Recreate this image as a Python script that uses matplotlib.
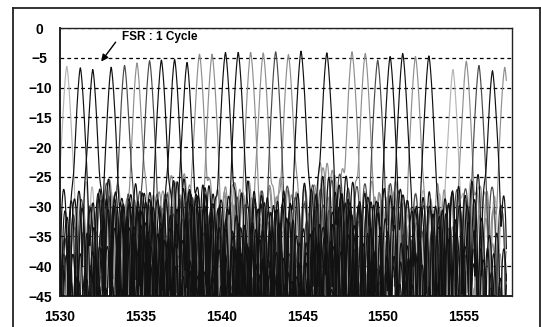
import numpy as np
import matplotlib
matplotlib.use("Agg")
import matplotlib.pyplot as plt
from matplotlib.lines import Line2D

# channel peaks
peak_wl = [1530.42, 1531.26, 1532.03, 1533.17, 1534.00, 1534.77, 1535.55, 1536.28,
           1537.10, 1537.87, 1538.64, 1539.42, 1540.25, 1541.04, 1541.81, 1542.59,
           1543.36, 1544.15, 1544.93, 1546.53, 1548.09, 1548.91, 1549.68, 1550.45,
           1551.23, 1552.02, 1552.85, 1554.34, 1555.17, 1555.95, 1556.79, 1557.55]
peak_db = [-6.5, -6.7, -7.0, -6.6, -6.3, -5.9, -5.5, -5.4,
           -5.3, -5.8, -4.4, -4.4, -4.1, -4.1, -4.1, -4.2,
           -4.0, -4.5, -3.9, -4.2, -4.0, -4.3, -5.4, -4.8,
           -4.3, -4.8, -4.7, -7.0, -5.6, -6.3, -7.2, -6.6]
peak_tone = ['l', 'k', 'k', 'k', 'd', 'g', 'd', 'k',
             'k', 'k', 'g', 'g', 'k', 'k', 'g', 'g',
             'd', 'g', 'k', 'k', 'g', 'g', 'd', 'k',
             'k', 'g', 'k', 'l', 'g', 'd', 'k', 'g']

# top of the crosstalk floor, read every 1 nm
floor_wl = [1530, 1531, 1532, 1533, 1534, 1535, 1536, 1537, 1538, 1539,
            1540, 1541, 1542, 1543, 1544, 1545, 1546, 1547, 1548, 1549,
            1550, 1551, 1552, 1553, 1554, 1555, 1556, 1557, 1558]
floor_db = [-27.0, -26.0, -26.5, -25.5, -27.0, -26.0, -26.5, -25.0, -25.3, -26.0,
            -26.5, -25.5, -26.0, -26.5, -25.5, -26.0, -23.0, -22.5, -24.5, -26.5,
            -26.5, -26.0, -26.5, -27.0, -26.5, -26.0, -25.0, -26.5, -27.5]

tones = {'k': '#111111', 'd': '#4a4a4a', 'g': '#8f8f8f', 'l': '#b5b5b5'}

fig = plt.figure(figsize=(5.41, 3.27), dpi=100)
ax = fig.add_axes([60 / 541, 1 - 296 / 327, 452 / 541, 268 / 327])

wl = np.arange(1530.0, 1557.65, 0.01)
floor = np.interp(wl, floor_wl, floor_db)

order = sorted(range(len(peak_wl)), key=lambda i: 'lgdk'.index(peak_tone[i]))
for i in order:
    c, p = peak_wl[i], peak_db[i]
    # passband shape
    main = p - 70 * np.abs(wl - c) ** 1.5
    # sidelobe ripple under the floor envelope, rolling off away from the channel
    per = 0.40 + 0.03 * ((i * 7) % 6)
    shift = (i * 0.37) % per
    lift = (1.5 * np.cos(2 * np.pi * (wl - c) / (per * 3.3) + i) - 0.8
            - 0.6 * ((i * 3) % 5) - 3.0 * np.clip(np.abs(wl - c) - 2.0, 0, None))
    side = floor + lift + 10 * np.log10(np.cos(np.pi * (wl - shift) / per) ** 2 + 0.02)
    y = 10 * np.log10(10 ** (main / 10) + 10 ** (side / 10))
    ax.plot(wl, y, color=tones[peak_tone[i]], lw=0.85,
            zorder=3 if peak_tone[i] in 'kd' else 2)

ax.set_xlim(1530, 1558)
ax.set_ylim(-45, 0)
ax.set_xticks([1530, 1535, 1540, 1545, 1550, 1555])
ax.set_yticks(range(-45, 1, 5))
ax.yaxis.grid(True, color='k', lw=0.9, linestyle=(0, (3, 2.5)))
ax.set_axisbelow(True)
ax.tick_params(length=0)
ax.tick_params(axis='y', pad=14.5)
ax.tick_params(axis='x', pad=10)
for lab in ax.get_xticklabels() + ax.get_yticklabels():
    lab.set_fontfamily('Liberation Sans')
    lab.set_fontweight('bold')
    lab.set_fontsize(10)
for lab in ax.get_yticklabels():
    lab.set_ha('center')
for s in ax.spines.values():
    s.set_linewidth(1.0)
    s.set_color('#222222')
ax.spines['left'].set_linewidth(1.4)
ax.spines['bottom'].set_linewidth(1.4)

ax.text(1533.81, -1.46, "FSR : 1 Cycle", fontfamily='Liberation Sans',
        fontweight='bold', fontsize=8.5, ha='left', va='center')
ax.annotate('', xy=(1532.45, -6.0), xytext=(1533.55, -2.0),
            arrowprops=dict(arrowstyle='-|>', color='k', lw=1.0, mutation_scale=10))

# outer frame of the figure
fx0, fx1, fy1 = 12.5 / 541, 539.5 / 541, 1 - 7.5 / 327
for xs, ys in [([fx0, fx0], [0, fy1]), ([fx0, fx1], [fy1, fy1]), ([fx1, fx1], [fy1, 0])]:
    fig.add_artist(Line2D(xs, ys, color='#222222', lw=1.3, transform=fig.transFigure))

fig.savefig('out.png', dpi=100)
